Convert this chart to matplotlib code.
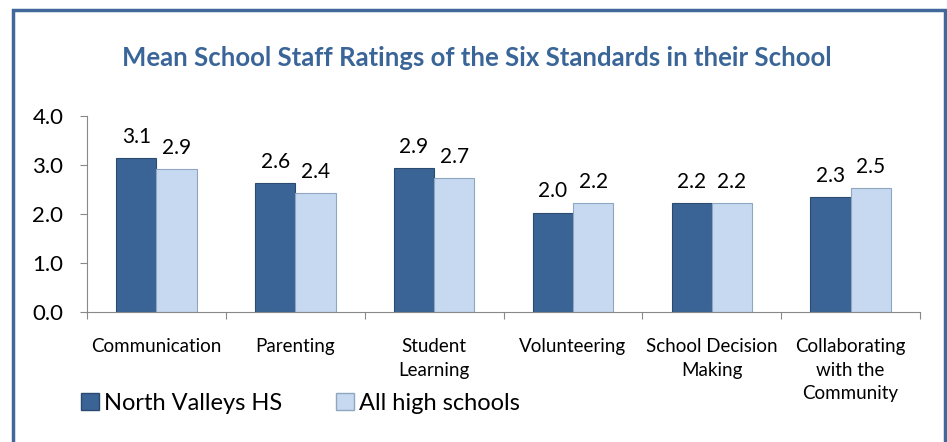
import matplotlib.pyplot as plt
import numpy as np
from matplotlib.patches import Rectangle, Patch

plt.rcParams['font.family'] = ['Lato', 'DejaVu Sans']

categories = ['Communication', 'Parenting', 'Student\nLearning', 'Volunteering',
              'School Decision\nMaking', 'Collaborating\nwith the\nCommunity']
north_valleys = [3.14, 2.63, 2.94, 2.03, 2.23, 2.34]
all_high = [2.92, 2.43, 2.73, 2.23, 2.22, 2.53]
series_names = ['North Valleys HS', 'All high schools']
title = 'Mean School Staff Ratings of the Six Standards in their School'

dark = '#3B6496'
light = '#C6D9F0'
border = '#41689B'

fig = plt.figure(figsize=(9.47, 4.42), dpi=100)
ax = fig.add_axes([0.0919, 0.2941, 0.8796, 0.4435])

x = np.arange(len(categories))
w = 0.29
b1 = ax.bar(x - w / 2, north_valleys, w, color=dark, edgecolor='#2A4A70', linewidth=0.8)
b2 = ax.bar(x + w / 2, all_high, w, color=light, edgecolor='#8FA6C0', linewidth=0.8)

for bars, vals in [(b1, north_valleys), (b2, all_high)]:
    for r, v in zip(bars, vals):
        ax.annotate(f'{v:.1f}', (r.get_x() + r.get_width() / 2, v),
                    xytext=(0, 8), textcoords='offset points',
                    ha='center', va='bottom', fontsize=15, color='black')

ax.set_xlim(-0.5, len(categories) - 0.5)
ax.set_ylim(0, 4)
ax.set_yticks([0, 1, 2, 3, 4])
ax.set_yticklabels([f'{t:.1f}' for t in [0, 1, 2, 3, 4]], fontsize=16)
ax.set_xticks(np.arange(len(categories) + 1) - 0.5)
ax.set_xticklabels([])
ax.set_xticks(x, minor=True)
ax.set_xticklabels(categories, minor=True, fontsize=13.5, linespacing=1.45)
ax.tick_params(axis='x', which='major', length=5, color='#888888', direction='out')
ax.tick_params(axis='x', which='minor', length=0, pad=19)
ax.tick_params(axis='y', length=5, color='#888888', pad=12)
for s in ['top', 'right']:
    ax.spines[s].set_visible(False)
for s in ['left', 'bottom']:
    ax.spines[s].set_color('#888888')

fig.text(0.503, 0.868, title, ha='center', va='center', fontsize=18.5,
         fontweight='bold', color='#3A6598')

handles = [Patch(facecolor=dark, edgecolor='#2A4A70'), Patch(facecolor=light, edgecolor='#8FA6C0')]
fig.legend(handles, series_names, loc='center left', bbox_to_anchor=(0.086, 0.088),
           ncol=2, frameon=False, fontsize=17, handlelength=0.75, handleheight=0.75,
           handletextpad=0.2, columnspacing=2.3, borderaxespad=0, borderpad=0)

fig.patches.append(Rectangle((0.0137, -0.1), 0.9837, 1.077, transform=fig.transFigure,
                             fill=False, edgecolor=border, linewidth=2.5, clip_on=False))

fig.savefig('out.png', dpi=100)
